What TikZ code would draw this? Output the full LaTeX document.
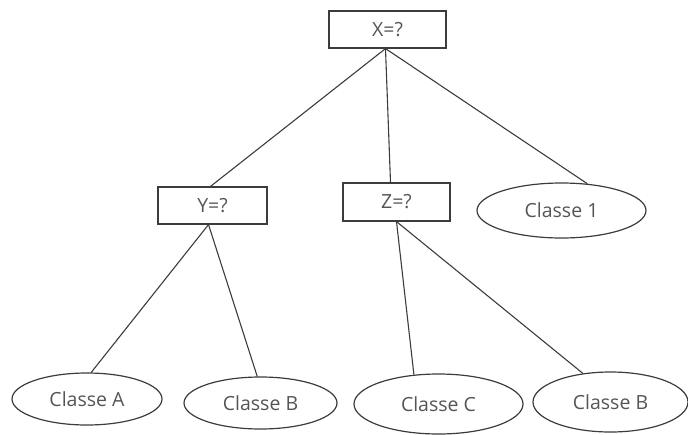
\documentclass[tikz,border=0pt]{standalone}
\usepackage{fontspec}
\setmainfont{Open Sans}
\usetikzlibrary{shapes.geometric}
\definecolor{ink}{RGB}{60,60,60}
\definecolor{txt}{RGB}{85,85,85}
\begin{document}
\begin{tikzpicture}[x=1pt,y=-1pt,
  test/.style={draw=ink,line width=1.2pt,rectangle,minimum width=#1,minimum height=37pt,inner sep=0pt,
    text=txt,font=\fontsize{19.5}{19.5}\selectfont},
  leaf/.style={draw=ink,line width=1.2pt,ellipse,inner sep=0pt,text=txt,font=\fontsize{19.5}{19.5}\selectfont},
  edge/.style={draw=ink,line width=1.1pt}]
  \useasboundingbox (0,0) rectangle (688,434);
  % decision nodes
  \node[test=117pt] (x) at (387.5,29.5) {X=?};
  \node[test=109pt] (y) at (212.5,205.5) {Y=?};
  \node[test=107pt,minimum height=38pt] (z) at (396.5,202) {Z=?};
  % leaves
  \node[leaf,minimum width=169pt,minimum height=55pt] (c1) at (561.5,210.5) {Classe 1};
  \node[leaf,minimum width=150pt,minimum height=52pt] (ca) at (87,399) {Classe A};
  \node[leaf,minimum width=153pt,minimum height=52pt] (cb1) at (260.5,403) {Classe B};
  \node[leaf,minimum width=169pt,minimum height=60pt] (cc) at (438.5,404) {Classe C};
  \node[leaf,minimum width=155pt,minimum height=60pt] (cb2) at (610.5,402) {Classe B};
  % branches
  \coordinate (xs) at ([xshift=-2pt]x.south);
  \coordinate (ys) at ([xshift=-4pt]y.south);
  \coordinate (zs) at ([xshift=0pt]z.south);
  \draw[edge] (xs) -- ([xshift=-2pt]y.north);
  \draw[edge] (xs) -- ([xshift=-6pt]z.north);
  \draw[edge] (xs) -- (c1.46);
  \draw[edge] (ys) -- (ca.81);
  \draw[edge] (ys) -- (cb1.97);
  \draw[edge] (zs) -- (cc.130);
  \draw[edge] (zs) -- (cb2.134);
\end{tikzpicture}
\end{document}
